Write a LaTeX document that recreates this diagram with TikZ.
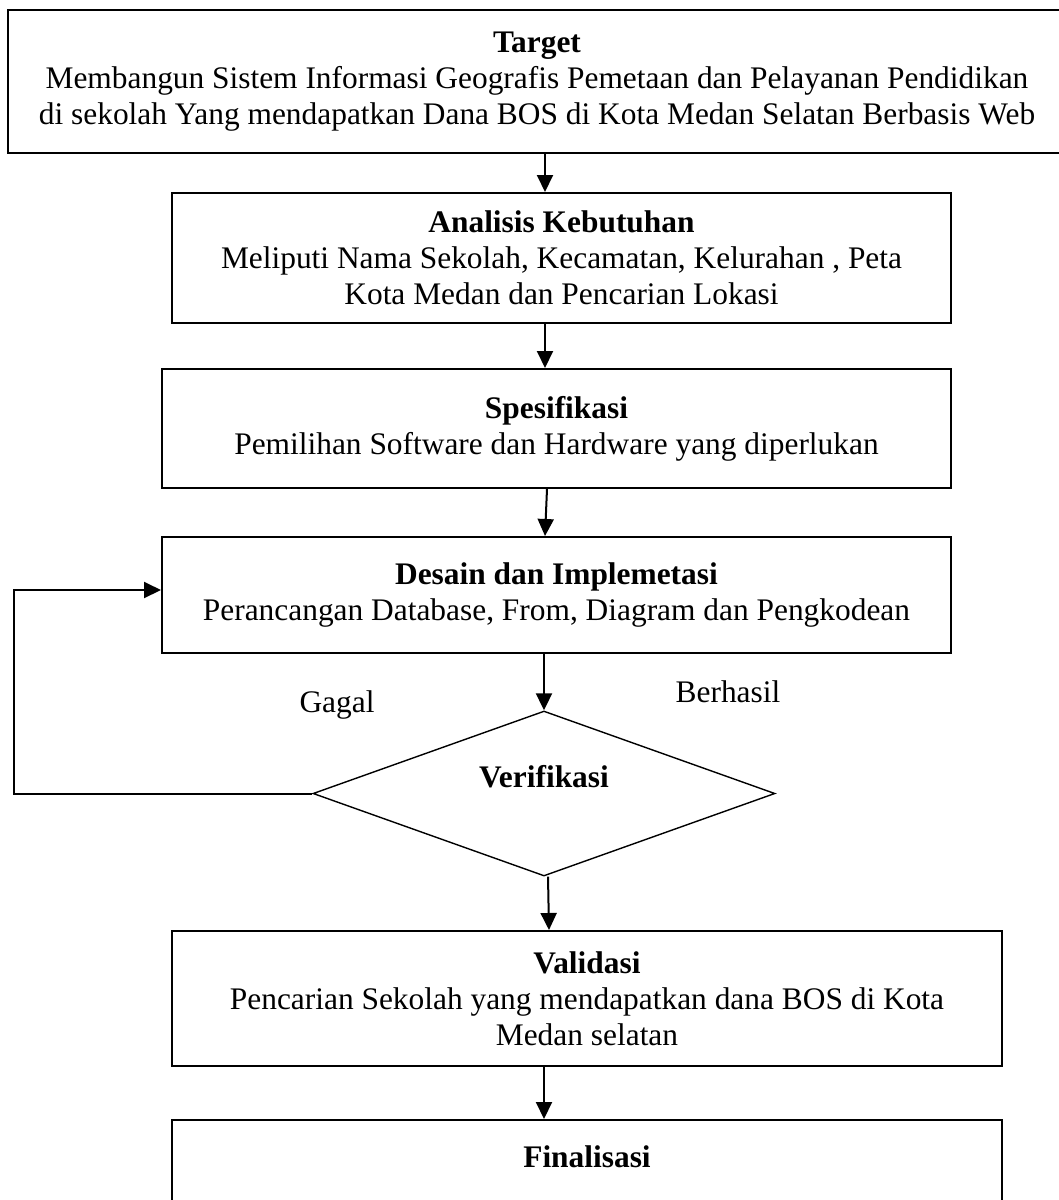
\documentclass[tikz,border=0pt]{standalone}
\usepackage{fontspec}
\setmainfont{Liberation Serif}
\usetikzlibrary{shapes.geometric,arrows.meta,positioning,calc}

\begin{document}
\begin{tikzpicture}[x=1pt, y=-1pt,
    every node/.style={font=\fontsize{31.4}{36.1}\selectfont},
    kotak/.style={draw, line width=2pt, align=center, inner sep=0pt},
    putusan/.style={draw, diamond, line width=1.4pt, inner sep=0pt, minimum width=462pt, minimum height=165pt},
    panah/.style={line width=2pt, -{Triangle[width=16pt,length=17pt]}}]
  \useasboundingbox (0,0) rectangle (1059,1200);

  % Target
  \node[kotak, minimum width=1058pt, minimum height=143pt] (target) at (537,81.5)
    {\textbf{Target}\\Membangun Sistem Informasi Geografis Pemetaan dan Pelayanan Pendidikan\\di sekolah Yang mendapatkan Dana BOS di Kota Medan Selatan Berbasis Web};

  % Analisis kebutuhan
  \node[kotak, minimum width=779pt, minimum height=130pt] (analisis) at (561.5,258)
    {\textbf{Analisis Kebutuhan}\\Meliputi Nama Sekolah, Kecamatan, Kelurahan , Peta\\Kota Medan dan Pencarian Lokasi};

  % Spesifikasi
  \node[kotak, minimum width=789pt, minimum height=119pt] (spek) at (556.5,428.5)
    {\textbf{Spesifikasi}\\Pemilihan Software dan Hardware yang diperlukan};

  % Desain dan implementasi
  \node[kotak, minimum width=789pt, minimum height=116pt] (desain) at (556.5,595)
    {\textbf{Desain dan Implemetasi}\\Perancangan Database, From, Diagram dan Pengkodean};

  % Verifikasi
  \node[putusan] (verif) at (544,793.5) {};
  \node[font=\fontsize{31.4}{36.1}\selectfont\bfseries] (veriftxt) at (544,777) {Verifikasi};
  \node (gagal) at (337,705) {Gagal};
  \node (berhasil) at (728,692) {Berhasil};

  % Validasi
  \node[kotak, minimum width=830pt, minimum height=135pt] (validasi) at (587,998.5)
    {\textbf{Validasi}\\Pencarian Sekolah yang mendapatkan dana BOS di Kota\\Medan selatan};

  % Finalisasi
  \node[kotak, minimum width=830pt, minimum height=146pt] (final) at (587,1193)
    {\textbf{Finalisasi}\\~\\~};

  % Panah alur
  \draw[panah] ([xshift=-16.5pt]analisis.north |- target.south) -- ([xshift=-16.5pt]analisis.north);
  \draw[panah] ([xshift=-11.5pt]spek.north |- analisis.south) -- ([xshift=-11.5pt]spek.north);
  \draw[panah] ([xshift=-9.5pt]spek.south) -- ([xshift=-11.5pt]desain.north);
  \draw[panah] (verif.north |- desain.south) -- (verif.north);
  \draw[panah] ([xshift=4pt]verif.south) -- ([xshift=-38pt]validasi.north);
  \draw[panah] ([xshift=-43pt]validasi.south) -- ([xshift=-43pt]final.north);

  % Gagal kembali ke desain
  \coordinate (balik) at (14,793.5);
  \draw[panah] (verif.west) -- (balik) |- ([yshift=5pt]desain.west);
\end{tikzpicture}
\end{document}
